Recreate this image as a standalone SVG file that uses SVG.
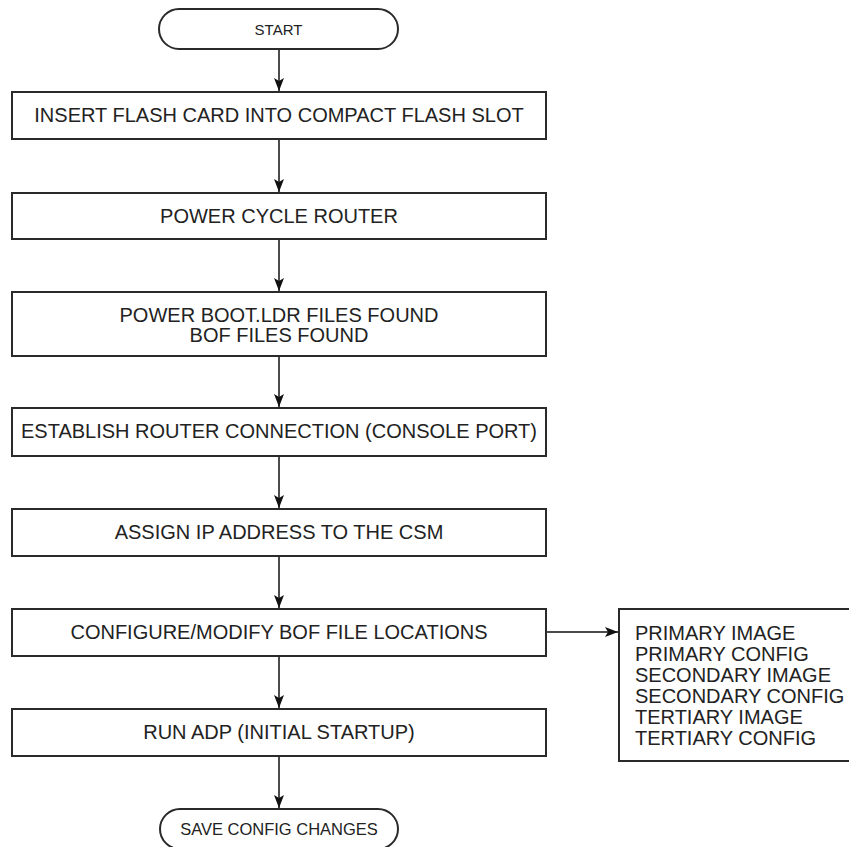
<svg xmlns="http://www.w3.org/2000/svg" width="849" height="847" viewBox="0 0 849 847">
<defs>
<style>
.box{fill:#fff;stroke:#2a2a2a;stroke-width:2}
.t{font-family:"Liberation Sans",Arial,Helvetica,sans-serif;font-size:20px;fill:#222;text-anchor:middle}
.ts{font-family:"Liberation Sans",Arial,Helvetica,sans-serif;font-size:20px;fill:#222}
.c{stroke:#111;stroke-width:1.5;fill:none;marker-end:url(#ah)}
</style>
<marker id="ah" markerWidth="14" markerHeight="10" refX="13" refY="5" orient="auto" markerUnits="userSpaceOnUse">
<path d="M0,0 L13,5 L0,10 L3,5 Z" fill="#111"/>
</marker>
</defs>
<rect width="849" height="847" fill="#fff"/>
<g id="connectors">
<line class="c" x1="279" y1="49" x2="279" y2="91"/>
<line class="c" x1="279" y1="139" x2="279" y2="192"/>
<line class="c" x1="279" y1="239" x2="279" y2="291"/>
<line class="c" x1="279" y1="356" x2="279" y2="407"/>
<line class="c" x1="279" y1="456" x2="279" y2="508"/>
<line class="c" x1="279" y1="556" x2="279" y2="608"/>
<line class="c" x1="279" y1="656" x2="279" y2="708"/>
<line class="c" x1="279" y1="756" x2="279" y2="808"/>
<line class="c" x1="546" y1="632" x2="618" y2="632"/>
</g>
<g id="start">
<rect class="box" x="159" y="9" width="239" height="40" rx="20" ry="20"/>
<text class="t" x="278.5" y="35" style="font-size:15px">START</text>
</g>
<g id="insert">
<rect class="box" x="12" y="92" width="534" height="47"/>
<text class="t" x="279" y="122">INSERT FLASH CARD INTO COMPACT FLASH SLOT</text>
</g>
<g id="powercycle">
<rect class="box" x="12" y="193" width="534" height="46"/>
<text class="t" x="279" y="223">POWER CYCLE ROUTER</text>
</g>
<g id="bootldr">
<rect class="box" x="12" y="292" width="534" height="64"/>
<text class="t" x="279" y="322">POWER BOOT.LDR FILES FOUND</text>
<text class="t" x="279" y="342">BOF FILES FOUND</text>
</g>
<g id="establish">
<rect class="box" x="12" y="408" width="534" height="48"/>
<text class="t" x="279" y="438">ESTABLISH ROUTER CONNECTION (CONSOLE PORT)</text>
</g>
<g id="assign">
<rect class="box" x="12" y="509" width="534" height="47"/>
<text class="t" x="279" y="539">ASSIGN IP ADDRESS TO THE CSM</text>
</g>
<g id="configure">
<rect class="box" x="12" y="609" width="534" height="47"/>
<text class="t" x="279" y="639">CONFIGURE/MODIFY BOF FILE LOCATIONS</text>
</g>
<g id="runadp">
<rect class="box" x="12" y="709" width="534" height="47"/>
<text class="t" x="279" y="739">RUN ADP (INITIAL STARTUP)</text>
</g>
<g id="save">
<rect class="box" x="160" y="809" width="238" height="40" rx="20" ry="20"/>
<text class="t" x="279" y="835" style="font-size:16.5px">SAVE CONFIG CHANGES</text>
</g>
<g id="locations">
<rect class="box" x="619" y="609" width="240" height="152"/>
<text class="ts" x="635" y="640">PRIMARY IMAGE</text>
<text class="ts" x="635" y="661">PRIMARY CONFIG</text>
<text class="ts" x="635" y="682">SECONDARY IMAGE</text>
<text class="ts" x="635" y="703">SECONDARY CONFIG</text>
<text class="ts" x="635" y="724">TERTIARY IMAGE</text>
<text class="ts" x="635" y="745">TERTIARY CONFIG</text>
</g>
</svg>
